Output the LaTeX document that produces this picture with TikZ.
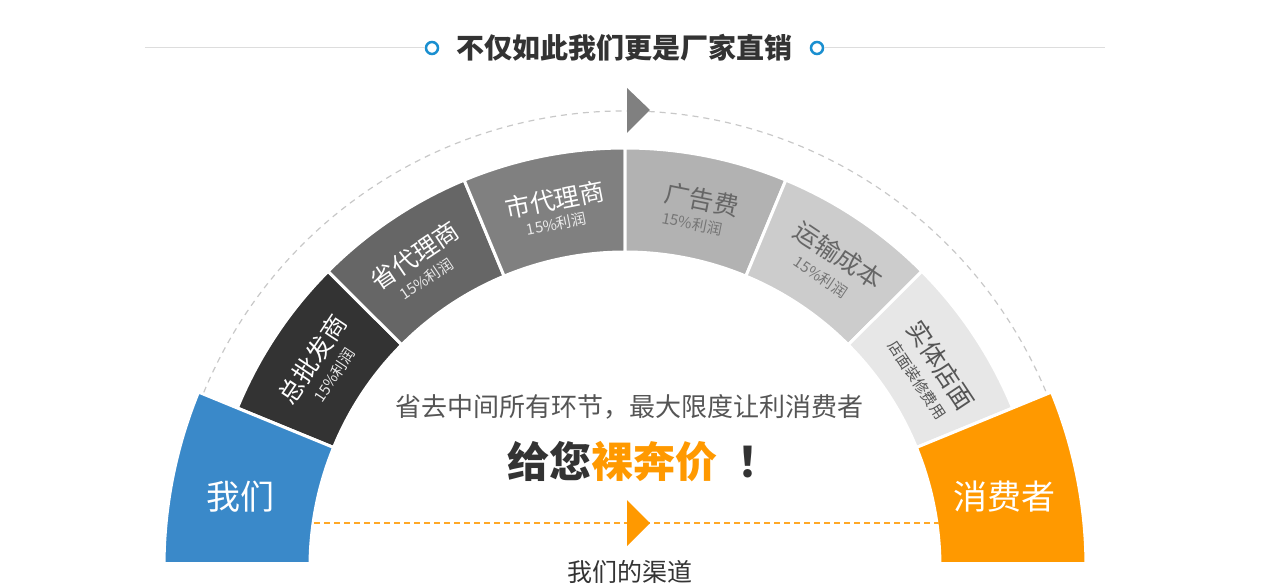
\documentclass[tikz,border=0pt]{standalone}
\usepackage{xcolor}
\usepackage{fontspec}
\setmainfont{Noto Sans CJK SC}
\usepackage{tikz}
\usetikzlibrary{positioning, calc}
\definecolor{mydark}{RGB}{51,51,51}
\definecolor{mytext}{RGB}{85,85,85}
\definecolor{myblue}{RGB}{58,137,201}
\definecolor{myorange}{RGB}{255,153,0}
\definecolor{ringblue}{RGB}{26,143,208}
\definecolor{segA}{RGB}{51,51,51}
\definecolor{segB}{RGB}{102,102,102}
\definecolor{segC}{RGB}{128,128,128}
\definecolor{segD}{RGB}{178,178,178}
\definecolor{segE}{RGB}{204,204,204}
\definecolor{segF}{RGB}{231,231,231}
\definecolor{arcgray}{RGB}{200,200,200}
\definecolor{rulegray}{RGB}{221,221,221}
\tikzset{
  sector/.style={draw=white,line width=3pt},
  segtext/.style={inner sep=0pt,font=\fontsize{25}{25}\selectfont},
  subtext/.style={inner sep=0pt,font=\fontsize{15}{15}\selectfont},
  endtext/.style={inner sep=0pt,text=white,font=\fontsize{34}{34}\selectfont},
  ring/.style={circle,draw=ringblue,line width=2.5pt,minimum size=12pt,inner sep=0pt},
  rule/.style={rulegray,line width=1pt},
  arcline/.style={arcgray,line width=1.2pt,dash pattern=on 6pt off 5pt},
  chanline/.style={myorange!85,line width=1.5pt,dash pattern=on 6pt off 4pt}
}

\begin{document}
\begin{tikzpicture}[x=1pt,y=1pt]
  \useasboundingbox (-625,-17) rectangle (641,567);

  % title
  \node[inner sep=0pt,text=mydark,font=\fontsize{28}{28}\selectfont\bfseries] (title) at (0,519) {不仅如此我们更是厂家直销};
  \node[ring] (ringL) at (-193,519) {};
  \node[ring] (ringR) at (192,519) {};
  \coordinate (ruleL) at (-480,519);
  \coordinate (ruleR) at (480,519);
  \draw[rule] (ruleL) -- (ringL);
  \draw[rule] (ringR) -- (ruleR);

  % dashed arc with arrow on top
  \draw[arcline] (157.5:456pt) arc[start angle=157.5,end angle=22.5,radius=456pt];
  \fill[segC] (2,479) -- (25,457) -- (2,434) -- cycle;

  % gray sectors
  \filldraw[sector,fill=segA] (135.13:419pt) arc[start angle=135.13,end angle=157.7,radius=419pt]
    -- (157.7:315pt) arc[start angle=157.7,end angle=135.13,radius=315pt] -- cycle;
  \filldraw[sector,fill=segB] (112.57:419pt) arc[start angle=112.57,end angle=135.13,radius=419pt]
    -- (135.13:315pt) arc[start angle=135.13,end angle=112.57,radius=315pt] -- cycle;
  \filldraw[sector,fill=segC] (90:419pt) arc[start angle=90,end angle=112.57,radius=419pt]
    -- (112.57:315pt) arc[start angle=112.57,end angle=90,radius=315pt] -- cycle;
  \filldraw[sector,fill=segD] (67.43:419pt) arc[start angle=67.43,end angle=90,radius=419pt]
    -- (90:315pt) arc[start angle=90,end angle=67.43,radius=315pt] -- cycle;
  \filldraw[sector,fill=segE] (44.87:419pt) arc[start angle=44.87,end angle=67.43,radius=419pt]
    -- (67.43:315pt) arc[start angle=67.43,end angle=44.87,radius=315pt] -- cycle;
  \filldraw[sector,fill=segF] (22.3:419pt) arc[start angle=22.3,end angle=44.87,radius=419pt]
    -- (44.87:315pt) arc[start angle=44.87,end angle=22.3,radius=315pt] -- cycle;

  % end sectors
  \begin{scope}
    \clip (-640,6) rectangle (640,600);
    \filldraw[sector,fill=myblue] (157.7:461pt) arc[start angle=157.7,end angle=185,radius=461pt]
      -- (185:315pt) arc[start angle=185,end angle=157.7,radius=315pt] -- cycle;
    \filldraw[sector,fill=myorange] (-5:461pt) arc[start angle=-5,end angle=22.3,radius=461pt]
      -- (22.3:315pt) arc[start angle=22.3,end angle=-5,radius=315pt] -- cycle;
  \end{scope}

  % sector labels
  \node[segtext,text=white,rotate=56.4] (wholesale) at (146.4:375pt) {总批发商};
  \node[subtext,text=white!92!black,rotate=56.4] (wholesaleP) at (146.6:348pt) {15\%利润};
  \node[segtext,text=white,rotate=33.85] (province) at (124:376pt) {省代理商};
  \node[subtext,text=white!92!black,rotate=33.85] (provinceP) at (124.6:350pt) {15\%利润};
  \node[segtext,text=white,rotate=11.3] (city) at (100.8:374pt) {市代理商};
  \node[subtext,text=white!92!black,rotate=11.3] (cityP) at (101.3:350pt) {15\%利润};
  \node[segtext,text=segB,rotate=-11.3] (ads) at (78.2:375pt) {广告费};
  \node[subtext,text=segB!90,rotate=-11.3] (adsP) at (78.9:350pt) {15\%利润};
  \node[segtext,text=segB,rotate=-33.85] (freight) at (55.6:378pt) {运输成本};
  \node[subtext,text=segB!90,rotate=-33.85] (freightP) at (56:350pt) {15\%利润};
  \node[segtext,text=mytext,rotate=-56.4] (store) at (32.6:375pt) {实体店面};
  \node[subtext,text=mytext,rotate=-56.4] (storeP) at (32.6:347pt) {店面装修费用};

  \node[endtext] (us) at (-384,70) {我们};
  \node[endtext] (buyer) at (379,70) {消费者};

  % middle
  \node[inner sep=0pt,text=mytext,font=\fontsize{26}{26}\selectfont] (slogan) at (5,160) {省去中间所有环节，最大限度让利消费者};
  \node[inner sep=0pt,text=mydark,font=\fontsize{42}{42}\selectfont\bfseries] (price) at (19,105) {给您\textcolor{myorange}{裸奔价}\hspace{20pt}！};

  \coordinate (chanL) at (-311,44);
  \coordinate (chanR) at (314,44);
  \draw[chanline] (chanL) -- (chanR);
  \fill[myorange] (2,67) -- (25,44) -- (2,21) -- cycle;
  \node[inner sep=0pt,text=mydark,font=\fontsize{25}{25}\selectfont,below=37pt of slogan.south |- chanL] (channel) {我们的渠道};
\end{tikzpicture}
\end{document}
